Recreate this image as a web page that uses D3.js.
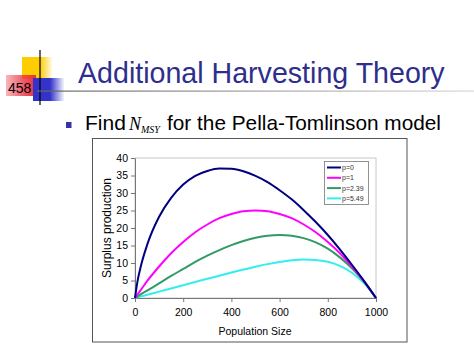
<!DOCTYPE html>
<html><head><meta charset="utf-8">
<script src="https://cdn.jsdelivr.net/npm/d3@7"></script>
<style>html,body{margin:0;padding:0;background:#fff;overflow:hidden}svg{display:block}</style>
</head><body>
<script>
const popSize = [0,10,25,50,100,150,200,250,300,350,400,450,500,550,600,650,700,750,800,850,900,950,1000];
const seriesNames = ["p=0","p=1","p=2.39","p=5.49"];
const seriesColors = ["#000080","#ff00ff","#339966","#33eeee"];
const surplusP0    = [0,4.6,9.3,15.1,23.2,28.6,32.4,34.9,36.3,37.0,36.9,36.2,34.9,33.1,30.8,28.2,25.1,21.7,18.0,13.9,9.5,4.9,0];
const surplusP1    = [0,1.0,2.4,4.8,9.0,12.8,16.0,18.8,21.0,22.8,24.0,24.8,25.0,24.8,24.0,22.8,21.0,18.8,16.0,12.8,9.0,4.8,0];
const surplusP239  = [0,0.4,1.1,2.1,4.2,6.3,8.3,10.3,12.1,13.7,15.1,16.3,17.2,17.8,18.0,17.8,17.1,15.9,14.1,11.6,8.5,4.7,0];
const surplusP549  = [0,0.18,0.46,0.91,1.83,2.74,3.66,4.57,5.48,6.38,7.26,8.12,8.94,9.68,10.3,10.77,10.99,10.88,10.33,9.17,7.23,4.26,0];
const yTicks = [0,5,10,15,20,25,30,35,40];
const xTicks = [0,200,400,600,800,1000];
const titleText = "Additional Harvesting Theory";
const slideNumber = "458";

const W = 474, H = 355;
const svg = d3.select("body").append("svg").attr("width", W).attr("height", H);
const defs = svg.append("defs");
function grad(id, c, stops) {
  const g = defs.append("linearGradient").attr("id", id).attr("x1","0").attr("x2","1").attr("y1","0").attr("y2","0");
  stops.forEach(s => g.append("stop").attr("offset", s[0]).attr("stop-color", c).attr("stop-opacity", s[1]));
}
grad("gy", "#ffcc00", [[0,1],[0.6,1],[1,0.1]]);
grad("gr", "#e83040", [[0,0.35],[0.6,0.8],[1,1]]);
grad("gb", "#3333cc", [[0,1],[0.55,1],[1,0.05]]);
grad("gl", "#666666", [[0,1],[0.5,0.6],[1,0.25]]);

// decorations
svg.append("rect").attr("x",22).attr("y",57).attr("width",30).attr("height",22).attr("fill","url(#gy)");
svg.append("rect").attr("x",6).attr("y",75).attr("width",30).attr("height",21).attr("fill","url(#gr)");
svg.append("rect").attr("x",33).attr("y",78).attr("width",31).attr("height",23).attr("fill","url(#gb)");
svg.append("line").attr("x1",40).attr("x2",40).attr("y1",50).attr("y2",105).attr("stroke","#000").attr("stroke-width",1.2);
svg.append("rect").attr("x",37).attr("y",90.5).attr("width",437).attr("height",1.2).attr("fill","url(#gl)");
svg.append("text").attr("x",8).attr("y",93).attr("font-family","Liberation Sans, Arial, sans-serif")
  .attr("font-size",14).attr("fill","#000").text(slideNumber);

// title
svg.append("text").attr("x",78).attr("y",83).attr("font-family","Liberation Sans, Arial, sans-serif")
  .attr("font-size",28.6).attr("fill","#2e2e8c").text(titleText);

// bullet line
svg.append("rect").attr("x",66).attr("y",122).attr("width",5.5).attr("height",6).attr("fill","#3333aa");
svg.append("text").attr("x",85).attr("y",130).attr("font-family","Liberation Sans, Arial, sans-serif")
  .attr("font-size",21).attr("fill","#000").text("Find");
const nt = svg.append("text").attr("x",129).attr("y",130).attr("font-family","Liberation Serif, Times New Roman, serif")
  .attr("font-style","italic").attr("fill","#000");
nt.append("tspan").attr("font-size",18).text("N");
nt.append("tspan").attr("font-size",10).attr("dy",3).text("MSY");
svg.append("text").attr("x",167).attr("y",130).attr("font-family","Liberation Sans, Arial, sans-serif")
  .attr("font-size",20.8).attr("fill","#000").text("for the Pella-Tomlinson model");

// chart frame
svg.append("rect").attr("x",92.5).attr("y",138.5).attr("width",314.5).attr("height",203.5)
  .attr("fill","#fff").attr("stroke","#555").attr("stroke-width",1);

const x = d3.scaleLinear().domain([0,1000]).range([135,376]);
const y = d3.scaleLinear().domain([0,40]).range([298,158]);

// plot area border
svg.append("rect").attr("x",135).attr("y",158).attr("width",241).attr("height",140)
  .attr("fill","none").attr("stroke","#c8c8c8").attr("stroke-width",1);

const fontAx = "Liberation Sans, Arial, sans-serif";
const gy = svg.append("g").attr("transform","translate(135,0)")
  .call(d3.axisLeft(y).tickValues(yTicks).tickSize(4).tickPadding(3).tickSizeOuter(0).tickFormat(d3.format("d")));
const gx = svg.append("g").attr("transform","translate(0,298)")
  .call(d3.axisBottom(x).tickValues(xTicks).tickSize(4).tickPadding(7).tickSizeOuter(0).tickFormat(d3.format("d")));
[gy,gx].forEach(g => {
  g.select(".domain").attr("stroke","#777");
  g.selectAll(".tick line").attr("stroke","#777");
  g.selectAll("text").attr("font-family",fontAx).attr("font-size",10.5).attr("fill","#000");
});

svg.append("text").attr("transform","translate(111,228) rotate(-90)").attr("text-anchor","middle")
  .attr("font-family",fontAx).attr("font-size",12).attr("fill","#000").text("Surplus production");
svg.append("text").attr("x",255).attr("y",335).attr("text-anchor","middle")
  .attr("font-family",fontAx).attr("font-size",10.5).attr("fill","#000").text("Population Size");

// lines
const allSeries = [surplusP0, surplusP1, surplusP239, surplusP549];
const line = d3.line().x((d,i) => x(popSize[i])).y(d => y(d)).curve(d3.curveMonotoneX);
allSeries.slice().reverse().forEach((s, k) => {
  const idx = allSeries.length - 1 - k;
  svg.append("path").datum(s).attr("d", line).attr("fill","none")
    .attr("stroke", seriesColors[idx]).attr("stroke-width",2);
});

// legend
const lg = svg.append("g");
lg.append("rect").attr("x",324.5).attr("y",161.5).attr("width",44).attr("height",43)
  .attr("fill","#fff").attr("stroke","#777").attr("stroke-width",0.8);
seriesNames.forEach((n,i) => {
  const yy = 167.5 + i*10.3;
  lg.append("line").attr("x1",327).attr("x2",341).attr("y1",yy).attr("y2",yy)
    .attr("stroke",seriesColors[i]).attr("stroke-width",2);
  lg.append("text").attr("x",342).attr("y",yy+2.5).attr("font-family",fontAx)
    .attr("font-size",7).attr("fill","#333").text(n);
});
</script>
</body></html>
